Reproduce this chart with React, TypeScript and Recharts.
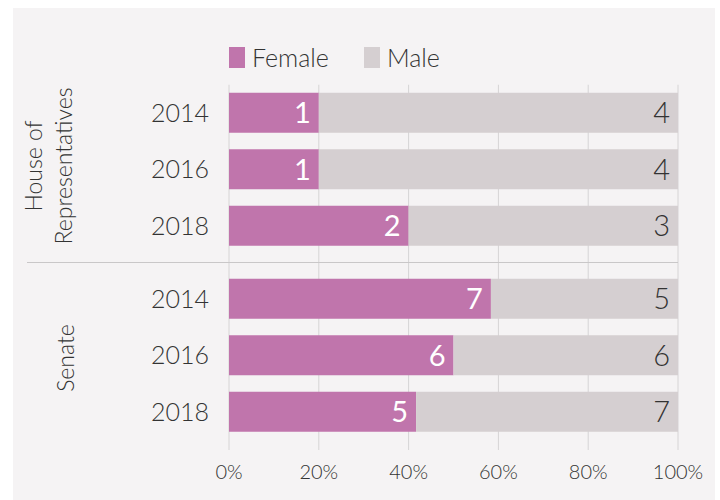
import React from 'react';
import { BarChart, Bar, XAxis, YAxis, CartesianGrid, Legend, LabelList } from 'recharts';

// seats by chamber and election year
const years = ['2014', '2016', '2018'];
const houseFemale = [1, 1, 2];
const houseMale = [4, 4, 3];
const senateFemale = [7, 6, 5];
const senateMale = [5, 6, 7];
const xTicks = [0, 0.2, 0.4, 0.6, 0.8, 1];

const FEMALE = '#c075ac';
const MALE = '#d5cfd1';
const GRID = '#d6d4d5';
const TEXT = '#333333';
const FONT = 'Lato, "Open Sans", sans-serif';
const WEIGHT = 300;

const houseData = years.map((year, i) => ({ year, female: houseFemale[i], male: houseMale[i] }));
const senateData = years.map((year, i) => ({ year, female: senateFemale[i], male: senateMale[i] }));

function LegendContent({ payload }: { payload?: Array<{ value: string; color: string }> }) {
  if (!payload) return null;
  return (
    <div style={{ display: 'flex', alignItems: 'center', fontFamily: FONT, fontWeight: WEIGHT }}>
      {payload.map((p) => (
        <div key={p.value} style={{ display: 'flex', alignItems: 'center', marginRight: 35 }}>
          <span style={{ width: 16, height: 21, background: p.color, display: 'inline-block', marginRight: 7 }} />
          <span style={{ fontSize: 25, color: TEXT }}>{p.value}</span>
        </div>
      ))}
    </div>
  );
}

const tickStyle = { fill: TEXT, fontSize: 25, fontFamily: FONT, fontWeight: WEIGHT };

export default function App() {
  return (
    <div style={{ position: 'absolute', left: 0, top: 0, width: 720, height: 500, background: '#ffffff', fontFamily: FONT, fontWeight: WEIGHT }}>
      <div style={{ position: 'absolute', left: 13, top: 8, width: 702, height: 492, background: '#f5f3f4' }} />

      <div style={{ position: 'absolute', left: 0, top: 0 }}>
        <BarChart
          width={720}
          height={262}
          data={houseData}
          layout="vertical"
          stackOffset="expand"
          margin={{ top: 84.75, right: 42, bottom: 0, left: 0 }}
        >
          <CartesianGrid horizontal={false} stroke={GRID} />
          <XAxis type="number" domain={[0, 1]} ticks={xTicks} hide />
          <YAxis
            type="category"
            dataKey="year"
            width={229}
            axisLine={false}
            tickLine={false}
            tickMargin={14}
            tick={tickStyle}
            padding={{ top: 0, bottom: 7.75 }}
          />
          <Legend
            layout="horizontal"
            verticalAlign="middle"
            align="center"
            content={<LegendContent />}
            wrapperStyle={{ position: 'absolute', top: 42, left: 229, width: 400 }}
          />
          <Bar dataKey="female" name="Female" stackId="a" fill={FEMALE} barSize={40} isAnimationActive={false}>
            <LabelList dataKey="female" position="insideRight" offset={8} fill="#ffffff" fontSize={29} fontFamily={FONT} fontWeight={400} />
          </Bar>
          <Bar dataKey="male" name="Male" stackId="a" fill={MALE} barSize={40} isAnimationActive={false}>
            <LabelList dataKey="male" position="insideRight" offset={8} fill={TEXT} fontSize={29} fontFamily={FONT} fontWeight={WEIGHT} />
          </Bar>
        </BarChart>
      </div>

      <div style={{ position: 'absolute', left: 0, top: 262 }}>
        <BarChart
          width={720}
          height={238}
          data={senateData}
          layout="vertical"
          stackOffset="expand"
          margin={{ top: 0, right: 42, bottom: 0, left: 0 }}
        >
          <CartesianGrid horizontal={false} stroke={GRID} />
          <XAxis
            type="number"
            domain={[0, 1]}
            ticks={xTicks}
            height={50}
            axisLine={false}
            tickLine={false}
            tickMargin={9}
            tick={{ fill: TEXT, fontSize: 20, fontFamily: FONT, fontWeight: WEIGHT }}
            tickFormatter={(v: number) => `${Math.round(v * 100)}%`}
          />
          <YAxis
            type="category"
            dataKey="year"
            width={229}
            axisLine={false}
            tickLine={false}
            tickMargin={14}
            tick={tickStyle}
            padding={{ top: 8.75, bottom: 9.75 }}
          />
          <Bar dataKey="female" name="Female" stackId="a" fill={FEMALE} barSize={40} isAnimationActive={false}>
            <LabelList dataKey="female" position="insideRight" offset={8} fill="#ffffff" fontSize={29} fontFamily={FONT} fontWeight={400} />
          </Bar>
          <Bar dataKey="male" name="Male" stackId="a" fill={MALE} barSize={40} isAnimationActive={false}>
            <LabelList dataKey="male" position="insideRight" offset={8} fill={TEXT} fontSize={29} fontFamily={FONT} fontWeight={WEIGHT} />
          </Bar>
        </BarChart>
      </div>

      {/* group separator */}
      <div style={{ position: 'absolute', left: 27, top: 262, width: 651, height: 1, background: '#c9c7c8' }} />

      {/* group labels */}
      <div
        style={{
          position: 'absolute',
          left: 48,
          top: 166,
          transform: 'translate(-50%, -50%) rotate(-90deg)',
          textAlign: 'center',
          whiteSpace: 'nowrap',
          fontSize: 23,
          lineHeight: '30px',
          color: TEXT,
        }}
      >
        House of
        <br />
        Representatives
      </div>
      <div
        style={{
          position: 'absolute',
          left: 65,
          top: 358,
          transform: 'translate(-50%, -50%) rotate(-90deg)',
          whiteSpace: 'nowrap',
          fontSize: 23,
          lineHeight: '30px',
          color: TEXT,
        }}
      >
        Senate
      </div>
    </div>
  );
}
